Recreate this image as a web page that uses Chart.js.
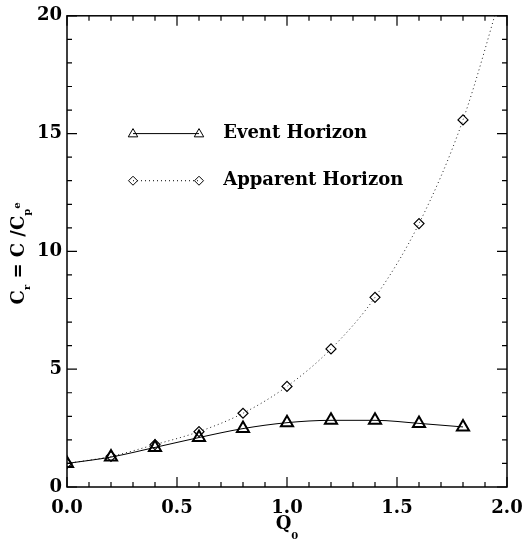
<!DOCTYPE html>
<html>
<head>
<meta charset="utf-8">
<script src="https://cdn.jsdelivr.net/npm/chart.js@4/dist/chart.umd.min.js"></script>
<style>
  html, body { margin: 0; padding: 0; background: #fff; }
  #wrap { width: 528px; height: 539px; position: relative; }
</style>
</head>
<body>
<div id="wrap"><canvas id="horizon-chart"></canvas></div>
<script>
  // values
  const q0 = [0.0, 0.2, 0.4, 0.6, 0.8, 1.0, 1.2, 1.4, 1.6, 1.8];
  const eventHorizon = [1.0, 1.27, 1.68, 2.1, 2.48, 2.73, 2.83, 2.83, 2.7, 2.55];
  const apparentHorizon = [1.0, 1.3, 1.8, 2.35, 3.13, 4.27, 5.86, 8.05, 11.18, 15.58];
  // the dotted curve keeps going past the last marker and leaves the frame near Q0 = 1.95
  const apparentTailQ0 = 2.0;
  const apparentTailValue = 21.8;
  const xTicks = [0.0, 0.5, 1.0, 1.5, 2.0];
  const yTicks = [0, 5, 10, 15, 20];
  const legendLabels = ["Event Horizon", "Apparent Horizon"];

  const FONT = "'DejaVu Serif', 'Liberation Serif', serif";
  const ink = "#000";

  Chart.defaults.font.family = FONT;
  Chart.defaults.font.weight = "bold";
  Chart.defaults.font.size = 18;
  Chart.defaults.color = ink;

  const eventPoints = q0.map((q, i) => ({ x: q, y: eventHorizon[i] }));
  const apparentPoints = q0.map((q, i) => ({ x: q, y: apparentHorizon[i] }));
  apparentPoints.push({ x: apparentTailQ0, y: apparentTailValue });
  const apparentRadius = apparentPoints.map((p, i) => (i < q0.length ? 5 : 0));

  function drawTriangle(ctx, x, y, r) {
    ctx.beginPath();
    ctx.moveTo(x, y - r);
    ctx.lineTo(x + r * 0.95, y + r * 0.65);
    ctx.lineTo(x - r * 0.95, y + r * 0.65);
    ctx.closePath();
    ctx.stroke();
  }

  function drawDiamond(ctx, x, y, r) {
    ctx.beginPath();
    ctx.moveTo(x, y - r);
    ctx.lineTo(x + r, y);
    ctx.lineTo(x, y + r);
    ctx.lineTo(x - r, y);
    ctx.closePath();
    ctx.stroke();
  }

  // frame with inward ticks on all four sides, like the original
  const framePlugin = {
    id: "frame",
    afterDraw(chart) {
      const { ctx, chartArea: a, scales } = chart;
      const xs = scales.x, ys = scales.y;
      ctx.save();
      ctx.strokeStyle = ink;
      ctx.lineWidth = 1.5;
      ctx.strokeRect(a.left, a.top, a.right - a.left, a.bottom - a.top);
      ctx.lineWidth = 1.2;
      for (let i = 0; i <= 20; i++) {
        const v = i / 10;
        const px = xs.getPixelForValue(v);
        const len = i % 5 === 0 ? 10 : 5;
        ctx.beginPath();
        ctx.moveTo(px, a.bottom); ctx.lineTo(px, a.bottom - len);
        ctx.moveTo(px, a.top); ctx.lineTo(px, a.top + len);
        ctx.stroke();
      }
      for (let v = 0; v <= 20; v++) {
        const py = ys.getPixelForValue(v);
        const len = v % 5 === 0 ? 10 : 5;
        ctx.beginPath();
        ctx.moveTo(a.left, py); ctx.lineTo(a.left + len, py);
        ctx.moveTo(a.right, py); ctx.lineTo(a.right - len, py);
        ctx.stroke();
      }
      ctx.restore();
    },
  };

  // legend drawn inside the plot, placed in data units
  const legendPlugin = {
    id: "innerLegend",
    afterDraw(chart) {
      const { ctx, scales } = chart;
      const xs = scales.x, ys = scales.y;
      const x0 = xs.getPixelForValue(0.3);
      const x1 = xs.getPixelForValue(0.6);
      const tx = xs.getPixelForValue(0.71);
      const rows = [ys.getPixelForValue(15), ys.getPixelForValue(13)];
      ctx.save();
      ctx.strokeStyle = ink;
      ctx.fillStyle = ink;
      ctx.font = "bold 18px " + FONT;
      ctx.textBaseline = "middle";

      ctx.lineWidth = 1;
      ctx.beginPath();
      ctx.moveTo(x0, rows[0]); ctx.lineTo(x1, rows[0]);
      ctx.stroke();
      drawTriangle(ctx, x0, rows[0], 5);
      drawTriangle(ctx, x1, rows[0], 5);
      ctx.fillText(legendLabels[0], tx, rows[0]);

      ctx.setLineDash([1, 3]);
      ctx.beginPath();
      ctx.moveTo(x0, rows[1]); ctx.lineTo(x1, rows[1]);
      ctx.stroke();
      ctx.setLineDash([]);
      drawDiamond(ctx, x0, rows[1], 4.5);
      drawDiamond(ctx, x1, rows[1], 4.5);
      ctx.fillText(legendLabels[1], tx, rows[1]);
      ctx.restore();
    },
  };

  // axis titles with subscripts
  const titlePlugin = {
    id: "axisTitles",
    afterDraw(chart) {
      const { ctx, chartArea: a } = chart;
      ctx.save();
      ctx.fillStyle = ink;
      ctx.textBaseline = "alphabetic";

      // x title: Q0
      const big = "bold 18px " + FONT;
      const small = "bold 10px " + FONT;
      const cx = (a.left + a.right) / 2;
      ctx.font = big;
      const qw = ctx.measureText("Q").width;
      ctx.font = small;
      const zw = ctx.measureText("0").width;
      let x = cx - (qw + zw) / 2;
      ctx.font = big;
      ctx.fillText("Q", x, 529);
      ctx.font = small;
      ctx.fillText("0", x + qw, 539);

      // y title: Cr = C /Cp e  (rotated)
      ctx.translate(24, (a.top + a.bottom) / 2 + 2);
      ctx.rotate(-Math.PI / 2);
      const parts = [
        { t: "C", f: big, dy: 0 },
        { t: "r", f: small, dy: 6 },
        { t: " = C /C", f: big, dy: 0 },
        { t: "p", f: small, dy: 6 },
        { t: "e", f: small, dy: -4 },
      ];
      let total = 0;
      parts.forEach((p) => { ctx.font = p.f; total += ctx.measureText(p.t).width; });
      x = -total / 2;
      parts.forEach((p) => {
        ctx.font = p.f;
        ctx.fillText(p.t, x, p.dy);
        x += ctx.measureText(p.t).width;
      });
      ctx.restore();
    },
  };

  const tickFont = { family: FONT, size: 18, weight: 700 };

  new Chart(document.getElementById("horizon-chart"), {
    type: "line",
    data: {
      datasets: [
        {
          label: legendLabels[0],
          data: eventPoints,
          borderColor: ink,
          borderWidth: 1,
          backgroundColor: "rgba(0,0,0,0)",
          cubicInterpolationMode: "monotone",
          pointStyle: "triangle",
          pointRadius: 7,
          pointBorderWidth: 2,
          pointBorderColor: ink,
          pointBackgroundColor: "rgba(0,0,0,0)",
        },
        {
          label: legendLabels[1],
          data: apparentPoints,
          borderColor: "#222",
          borderWidth: 1,
          borderDash: [1, 3],
          backgroundColor: "rgba(0,0,0,0)",
          cubicInterpolationMode: "monotone",
          pointStyle: "rectRot",
          pointRadius: apparentRadius,
          pointBorderWidth: 1.2,
          pointBorderColor: ink,
          pointBackgroundColor: "rgba(0,0,0,0)",
        },
      ],
    },
    options: {
      responsive: true,
      maintainAspectRatio: false,
      animation: false,
      layout: { padding: { top: 7, right: 21, left: 0, bottom: 0 } },
      plugins: {
        legend: { display: false },
        tooltip: { enabled: false },
      },
      scales: {
        x: {
          type: "linear",
          min: 0,
          max: 2,
          afterBuildTicks: (s) => { s.ticks = xTicks.map((v) => ({ value: v })); },
          afterFit: (s) => {
            s.height = 52;
            s.paddingLeft = 0;
            s.paddingRight = 0;
          },
          ticks: {
            font: tickFont,
            color: ink,
            padding: 11,
            maxRotation: 0,
            callback: (v) => Number(v).toFixed(1),
          },
          grid: { display: false, drawTicks: false },
          border: { display: false },
        },
        y: {
          min: 0,
          max: 20,
          afterBuildTicks: (s) => { s.ticks = yTicks.map((v) => ({ value: v })); },
          afterFit: (s) => { s.width = 67; },
          ticks: {
            font: tickFont,
            color: ink,
            padding: 5,
            callback: (v) => String(v),
          },
          grid: { display: false, drawTicks: false },
          border: { display: false },
        },
      },
    },
    plugins: [framePlugin, legendPlugin, titlePlugin],
  });
</script>
</body>
</html>
